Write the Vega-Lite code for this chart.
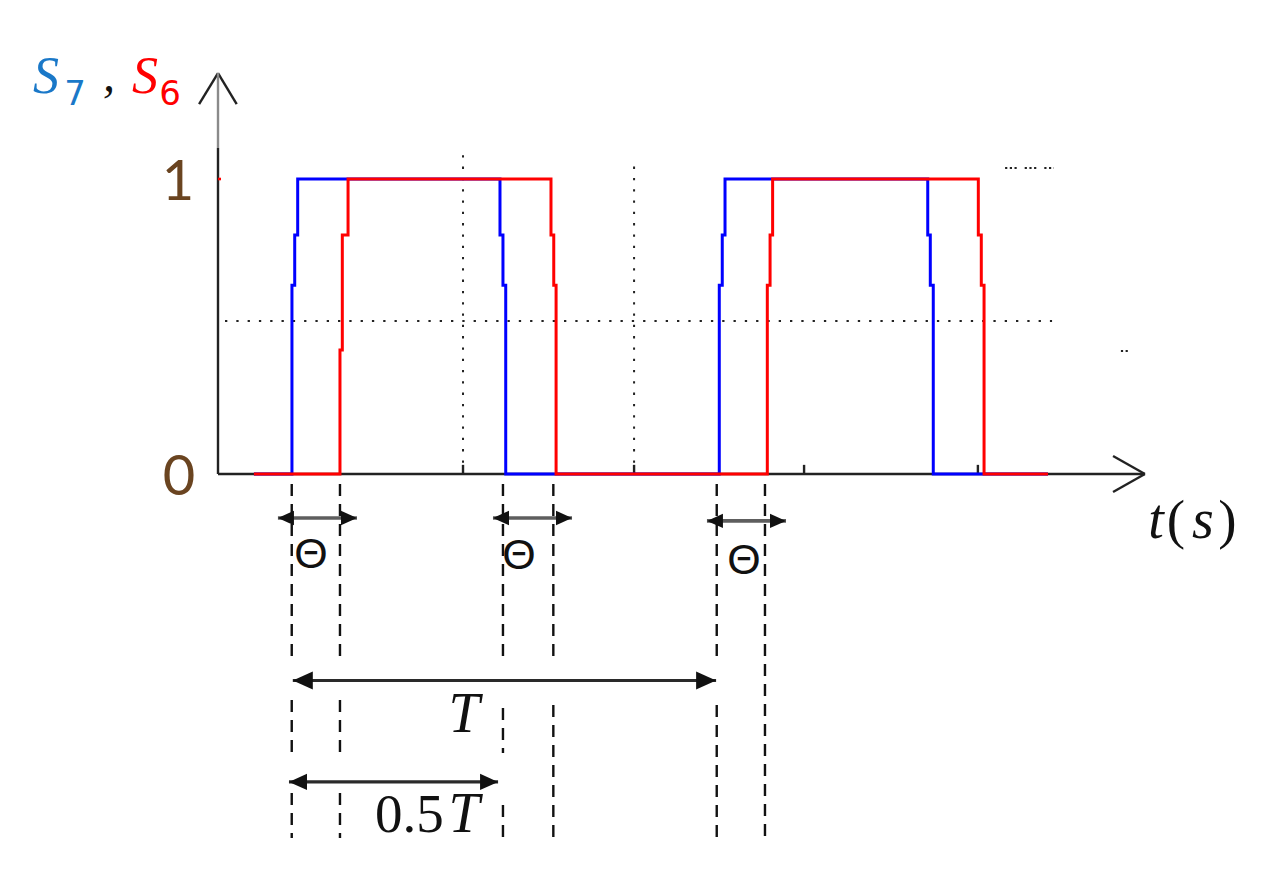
{
  "$schema": "https://vega.github.io/schema/vega-lite/v6.json",
  "width": 1266,
  "height": 881,
  "autosize": {"type": "fit", "contains": "padding"},
  "padding": 0,
  "background": "white",
  "config": {"view": {"stroke": null}},
  "datasets": {
    "blue": [
      {"i":1,"t":1.69,"v":0},{"i":2,"t":3.48,"v":0},{"i":3,"t":3.48,"v":0.64},{"i":4,"t":3.61,"v":0.64},
      {"i":5,"t":3.61,"v":0.81},{"i":6,"t":3.75,"v":0.81},{"i":7,"t":3.75,"v":1},{"i":8,"t":13.27,"v":1},
      {"i":9,"t":13.27,"v":0.81},{"i":10,"t":13.41,"v":0.81},{"i":11,"t":13.41,"v":0.64},{"i":12,"t":13.54,"v":0.64},
      {"i":13,"t":13.54,"v":0},{"i":14,"t":23.59,"v":0},{"i":15,"t":23.59,"v":0.64},{"i":16,"t":23.73,"v":0.64},
      {"i":17,"t":23.73,"v":0.81},{"i":18,"t":23.86,"v":0.81},{"i":19,"t":23.86,"v":1},{"i":20,"t":33.40,"v":1},
      {"i":21,"t":33.40,"v":0.81},{"i":22,"t":33.52,"v":0.81},{"i":23,"t":33.52,"v":0.64},{"i":24,"t":33.66,"v":0.64},
      {"i":25,"t":33.66,"v":0},{"i":26,"t":39.06,"v":0}
    ],
    "red": [
      {"i":1,"t":1.69,"v":0},{"i":2,"t":5.74,"v":0},{"i":3,"t":5.74,"v":0.42},{"i":4,"t":5.85,"v":0.42},
      {"i":5,"t":5.85,"v":0.81},{"i":6,"t":6.12,"v":0.81},{"i":7,"t":6.12,"v":1},{"i":8,"t":15.67,"v":1},
      {"i":9,"t":15.67,"v":0.81},{"i":10,"t":15.80,"v":0.81},{"i":11,"t":15.80,"v":0.64},{"i":12,"t":15.91,"v":0.64},
      {"i":13,"t":15.91,"v":0},{"i":14,"t":25.85,"v":0},{"i":15,"t":25.85,"v":0.64},{"i":16,"t":25.98,"v":0.64},
      {"i":17,"t":25.98,"v":0.81},{"i":18,"t":26.10,"v":0.81},{"i":19,"t":26.10,"v":1},{"i":20,"t":35.78,"v":1},
      {"i":21,"t":35.78,"v":0.81},{"i":22,"t":35.92,"v":0.81},{"i":23,"t":35.92,"v":0.64},{"i":24,"t":36.05,"v":0.64},
      {"i":25,"t":36.05,"v":0},{"i":26,"t":39.06,"v":0}
    ],
    "axes": [
      {"t":0,"v":0,"t2":0,"v2":1.105},
      {"t":0,"v":1.359,"t2":-0.89,"v2":1.254},
      {"t":0,"v":1.359,"t2":0.88,"v2":1.254},
      {"t":0,"v":0,"t2":43.62,"v2":0},
      {"t":43.62,"v":0,"t2":42.12,"v2":0.061},
      {"t":43.62,"v":0,"t2":42.12,"v2":-0.061},
      {"t":11.53,"v":0,"t2":11.53,"v2":0.031},
      {"t":19.58,"v":0,"t2":19.58,"v2":0.031},
      {"t":27.58,"v":0,"t2":27.58,"v2":0.031},
      {"t":35.76,"v":0,"t2":35.76,"v2":0.031}
    ],
    "axisTop": [
      {"t":0,"v":1.105,"t2":0,"v2":1.359}
    ],
    "marker": [
      {"t":0,"v":1,"t2":0.14,"v2":1}
    ],
    "thetaShafts": [
      {"t":2.82,"v":-0.149,"t2":6.54,"v2":-0.149},
      {"t":12.94,"v":-0.149,"t2":16.66,"v2":-0.149},
      {"t":23.01,"v":-0.159,"t2":26.73,"v2":-0.159}
    ],
    "periodShafts": [
      {"arrow":"T","t":3.52,"v":-0.700,"t2":23.44,"v2":-0.700},
      {"arrow":"half","t":3.34,"v":-1.044,"t2":13.18,"v2":-1.044}
    ],
    "grid": [
      {"t":11.53,"v":0,"t2":11.53,"v2":1.092},
      {"t":19.58,"v":0,"t2":19.58,"v2":1.071},
      {"t":0.33,"v":0.519,"t2":39.25,"v2":0.519}
    ],
    "dots": [
      {"t":37.04,"v":1.037,"t2":39.34,"v2":1.037},
      {"t":42.49,"v":0.417,"t2":42.87,"v2":0.417}
    ],
    "dashed": [
      {"t":3.47,"v":-0.034,"v2":-0.637},{"t":3.47,"v":-0.766,"v2":-0.959},{"t":3.47,"v":-1.081,"v2":-1.234},
      {"t":5.74,"v":-0.034,"v2":-0.637},{"t":5.74,"v":-0.766,"v2":-0.959},{"t":5.74,"v":-1.081,"v2":-1.234},
      {"t":13.41,"v":-0.034,"v2":-0.637},{"t":13.41,"v":-0.793,"v2":-0.946},{"t":13.41,"v":-1.122,"v2":-1.234},
      {"t":15.78,"v":-0.034,"v2":-0.637},{"t":15.78,"v":-0.783,"v2":-1.234},
      {"t":23.47,"v":-0.034,"v2":-0.637},{"t":23.47,"v":-0.783,"v2":-1.234},
      {"t":25.74,"v":-0.034,"v2":-1.234}
    ],
    "heads": [
      {"arrow":"theta","dir":"L","t":2.82,"v":-0.149},{"arrow":"theta","dir":"R","t":6.54,"v":-0.149},
      {"arrow":"theta","dir":"L","t":12.94,"v":-0.149},{"arrow":"theta","dir":"R","t":16.66,"v":-0.149},
      {"arrow":"theta","dir":"L","t":23.01,"v":-0.159},{"arrow":"theta","dir":"R","t":26.73,"v":-0.159},
      {"arrow":"T","dir":"L","t":3.52,"v":-0.700},{"arrow":"T","dir":"R","t":23.44,"v":-0.700},
      {"arrow":"half","dir":"L","t":3.34,"v":-1.044},{"arrow":"half","dir":"R","t":13.18,"v":-1.044}
    ],
    "sigLabels": [
      {"series":"S7","label":"S","t":-8.09,"v":1.292},
      {"series":"S6","label":"S","t":-3.44,"v":1.292}
    ],
    "subs": [
      {"series":"S7","label":"7","t":-6.73,"v":1.251},
      {"series":"S6","label":"6","t":-2.26,"v":1.251}
    ],
    "comma": [{"label":",","t":-5.13,"v":1.300}],
    "levels": [
      {"label":"1","t":-1.88,"v":0.929},
      {"label":"0","t":-1.84,"v":-0.071}
    ],
    "thetas": [
      {"label":"Θ","t":4.38,"v":-0.319},
      {"label":"Θ","t":14.16,"v":-0.322},
      {"label":"Θ","t":24.75,"v":-0.339}
    ],
    "serifIt": [
      {"label":"T","t":11.58,"v":-0.875},
      {"label":"T","t":11.58,"v":-1.214},
      {"label":"t","t":44.14,"v":-0.217},
      {"label":"s","t":46.35,"v":-0.217}
    ],
    "serifRm": [
      {"label":"0.5","t":9.01,"v":-1.214},
      {"label":"(","t":45.08,"v":-0.217},
      {"label":")","t":47.50,"v":-0.217}
    ]
  },
  "encoding": {
    "x": {"field":"t","type":"quantitative","scale":{"domain":[-10.259,49.318],"nice":false,"zero":false},"axis":null},
    "y": {"field":"v","type":"quantitative","scale":{"domain":[-1.3797,1.6068],"nice":false,"zero":false},"axis":null}
  },
  "resolve": {"scale": {"color":"independent","size":"independent","shape":"independent"}},
  "layer": [
    {
      "data": {"name":"grid"},
      "mark": {"type":"rule","color":"#222","strokeWidth":2,"strokeDash":[2.3,9]},
      "encoding": {"x2":{"field":"t2"},"y2":{"field":"v2"}}
    },
    {
      "data": {"name":"dots"},
      "mark": {"type":"rule","color":"#222","strokeWidth":2,"strokeDash":[2.2,2.5,2.2,2.5,2.2,8]},
      "encoding": {"x2":{"field":"t2"},"y2":{"field":"v2"}}
    },
    {
      "data": {"name":"dashed"},
      "mark": {"type":"rule","color":"#111","strokeWidth":2.4,"strokeDash":[12,8]},
      "encoding": {"y2":{"field":"v2"}}
    },
    {
      "data": {"name":"axes"},
      "mark": {"type":"rule","color":"#222","strokeWidth":2.4},
      "encoding": {"x2":{"field":"t2"},"y2":{"field":"v2"}}
    },
    {
      "data": {"name":"axisTop"},
      "mark": {"type":"rule","color":"#8a8a8a","strokeWidth":2.4},
      "encoding": {"x2":{"field":"t2"},"y2":{"field":"v2"}}
    },
    {
      "data": {"name":"marker"},
      "mark": {"type":"rule","color":"#ff0000","strokeWidth":2.6},
      "encoding": {"x2":{"field":"t2"},"y2":{"field":"v2"}}
    },
    {
      "data": {"name":"thetaShafts"},
      "mark": {"type":"rule","color":"#5e5e5e","strokeWidth":3.6},
      "encoding": {"x2":{"field":"t2"},"y2":{"field":"v2"}}
    },
    {
      "data": {"name":"periodShafts"},
      "mark": {"type":"rule","color":"#2a2a2a","strokeWidth":3.2},
      "encoding": {"x2":{"field":"t2"},"y2":{"field":"v2"}}
    },
    {
      "data": {"name":"blue"},
      "mark": {"type":"line","color":"#0000ff","strokeWidth":3,"interpolate":"linear"},
      "encoding": {"order":{"field":"i","type":"quantitative"}}
    },
    {
      "data": {"name":"red"},
      "mark": {"type":"line","color":"#ff0000","strokeWidth":3,"interpolate":"linear"},
      "encoding": {"order":{"field":"i","type":"quantitative"}}
    },
    {
      "data": {"name":"heads"},
      "mark": {"type":"point","filled":true,"color":"#111","opacity":1,"strokeWidth":0},
      "encoding": {
        "shape":{"field":"dir","type":"nominal","legend":null,"scale":{"domain":["L","R"],"range":["M0,0L2,-0.9L2,0.9Z","M0,0L-2,-0.9L-2,0.9Z"]}},
        "size":{"field":"arrow","type":"nominal","legend":null,"scale":{"type":"ordinal","domain":["theta","T","half"],"range":[256,400,324]}}
      }
    },
    {
      "data": {"name":"sigLabels"},
      "mark": {"type":"text","font":"Liberation Serif","fontStyle":"italic","fontSize":52,"align":"center","baseline":"alphabetic"},
      "encoding": {
        "text":{"field":"label"},
        "color":{"field":"series","type":"nominal","legend":null,"scale":{"domain":["S7","S6"],"range":["#1a78c8","#ff0000"]}}
      }
    },
    {
      "data": {"name":"subs"},
      "mark": {"type":"text","font":"DejaVu Sans","fontSize":34,"align":"center","baseline":"alphabetic"},
      "encoding": {
        "text":{"field":"label"},
        "color":{"field":"series","type":"nominal","legend":null,"scale":{"domain":["S7","S6"],"range":["#1a78c8","#ff0000"]}}
      }
    },
    {
      "data": {"name":"comma"},
      "mark": {"type":"text","font":"Liberation Serif","fontStyle":"italic","fontSize":48,"align":"center","baseline":"alphabetic","color":"#111"},
      "encoding": {"text":{"field":"label"}}
    },
    {
      "data": {"name":"levels"},
      "mark": {"type":"text","font":"Lato","fontSize":56,"align":"center","baseline":"alphabetic","color":"#6a4420"},
      "encoding": {"text":{"field":"label"}}
    },
    {
      "data": {"name":"thetas"},
      "mark": {"type":"text","font":"Liberation Sans","fontSize":43,"align":"center","baseline":"alphabetic","color":"#111"},
      "encoding": {"text":{"field":"label"}}
    },
    {
      "data": {"name":"serifIt"},
      "mark": {"type":"text","font":"Liberation Serif","fontStyle":"italic","fontSize":56,"align":"center","baseline":"alphabetic","color":"#111"},
      "encoding": {"text":{"field":"label"}}
    },
    {
      "data": {"name":"serifRm"},
      "mark": {"type":"text","font":"Liberation Serif","fontSize":55,"align":"center","baseline":"alphabetic","color":"#111"},
      "encoding": {"text":{"field":"label"}}
    }
  ]
}
